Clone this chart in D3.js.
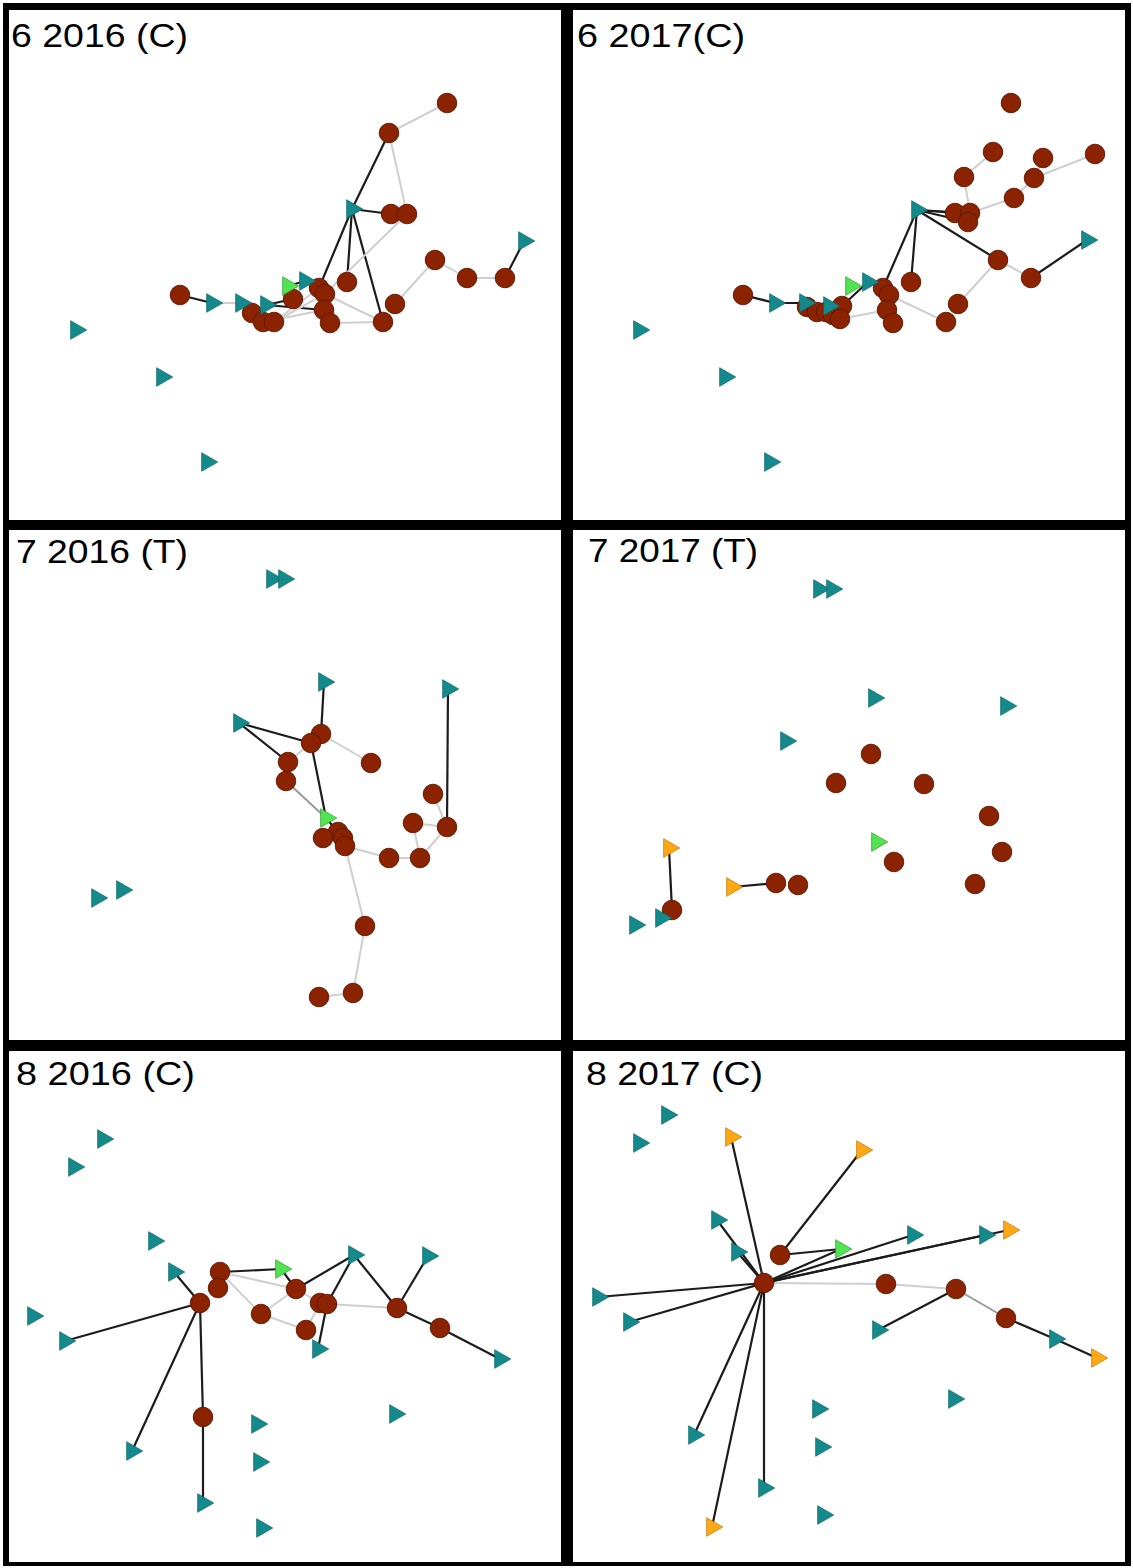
<!DOCTYPE html>
<html>
<head>
<meta charset="utf-8">
<script src="https://cdn.jsdelivr.net/npm/d3@7"></script>
<style>
  html, body { margin: 0; padding: 0; background: #fff; }
  svg { display: block; }
</style>
</head>
<body>
<svg id="chart" width="1133" height="1568"></svg>
<script>
// ---------------- DATA (panel-local coordinates) ----------------
const panelTitles = ["6 2016 (C)", "6 2017(C)", "7 2016 (T)", "7 2017 (T)", "8 2016 (C)", "8 2017 (C)"];

// node: [id, type, x, y]   type: c = circle, t = teal triangle, g = green triangle, o = orange triangle
const p1Nodes = [
  ["a1","c",447,103],["a2","c",389,133],["a3","c",391,214],["a4","c",407,214],["a5","c",435,260],
  ["a6","c",467,278],["a7","c",505,278],["a8","c",347,282],["a9","c",395,304],["a10","c",383,322],
  ["a11","c",180,295],["a12","c",293,299],["a13","c",319,288],["a14","c",325,294],["a15","c",324,310],
  ["a16","c",330,323],["a17","c",252,313],["a18","c",263,322],["a19","c",274,322],
  ["b1","t",352,209],["b2","t",524,241],["b3","t",212,303],["b4","t",241,303],["b5","t",266,305],
  ["b6","t",305,281],["b7","t",76,330],["b8","t",162,377],["b9","t",207,462],["g1","g",288,286]
];
// edge: [source, target, kind]  k = black, l = light grey, m = mid grey
const p1Edges = [
  ["a2","b1","k"],["b1","a3","k"],["b1","a8","k"],["b1","a13","k"],["b1","a10","k"],["a11","b3","k"],
  ["b2","a7","k"],["g1","b6","k"],["b6","a13","k"],["b5","a12","k"],["b5","a15","k"],
  ["a1","a2","l"],["a2","a4","l"],["a3","a4","l"],["a4","a14","l"],["a5","a9","l"],["a5","a6","l"],
  ["a6","a7","l"],["b3","b4","l"],["a14","a10","l"],["a16","a10","l"],["a19","a13","l"],["a19","a14","l"],
  ["a18","a15","l"],["a15","a16","l"],["b4","a17","l"]
];

const p2Nodes = [
  ["c1","c",445,103],["c2","c",427,152],["c3","c",477,158],["c4","c",529,154],["c5","c",398,177],
  ["c6","c",468,178],["c7","c",448,198],["c8","c",389,213],["c9","c",404,213],["c10","c",402,222],
  ["c11","c",432,260],["c12","c",465,278],["c13","c",345,282],["c14","c",392,304],["c15","c",380,322],
  ["c16","c",177,295],["c17","c",317,288],["c18","c",323,295],["c19","c",321,310],["c20","c",327,323],
  ["c21","c",241,307],["c22","c",251,312],["c23","c",260,312],["c24","c",267,315],["c25","c",276,306],
  ["c26","c",274,319],
  ["d1","t",351,210],["d2","t",521,240],["d3","t",209,303],["d4","t",239,303],["d5","t",263,306],
  ["d6","t",302,282],["d7","t",73,330],["d8","t",159,377],["d9","t",204,462],["g2","g",285,286]
];
const p2Edges = [
  ["c16","d3","k"],["d3","d4","k"],["d4","c21","k"],["c25","d6","k"],["d1","c17","k"],["d1","c13","k"],
  ["d1","c8","k"],["d1","c9","k"],["d1","c10","k"],["d1","c11","k"],["c12","d2","k"],
  ["c2","c5","l"],["c5","c9","l"],["c9","c7","l"],["c7","c6","l"],["c6","c4","l"],["c3","c6","l"],
  ["c11","c12","l"],["c11","c14","l"],["c18","c15","l"],["c26","c19","l"]
];

const p3Nodes = [
  ["e1","t",272,59],["e2","t",284,59],["e3","t",324,162],["e4","t",448,169],["e5","t",239,203],
  ["e6","t",97,378],["e7","t",122,370],["g3","g",326,298],
  ["f1","c",321,214],["f2","c",311,223],["f3","c",288,242],["f4","c",286,261],["f5","c",371,243],
  ["f6","c",433,274],["f7","c",413,303],["f8","c",447,307],["f9","c",338,312],["f10","c",323,318],
  ["f11","c",343,318],["f12","c",345,326],["f13","c",389,338],["f14","c",420,338],["f15","c",365,406],
  ["f16","c",353,473],["f17","c",319,477]
];
const p3Edges = [
  ["e5","f2","k"],["e5","f3","k"],["e3","f1","k"],["f2","g3","k"],["e4","f8","k"],["g3","f9","k"],
  ["f3","f2","l"],["f1","f5","l"],["f4","g3","m"],["f12","f13","l"],["f13","f14","l"],["f14","f7","l"],
  ["f7","f8","l"],["f8","f6","l"],["f14","f8","l"],["f12","f15","l"],["f15","f16","l"],["f16","f17","l"]
];

const p4Nodes = [
  ["h1","t",253,69],["h2","t",266,69],["h3","t",308,178],["h4","t",440,186],["h5","t",220,221],
  ["h6","t",69,405],["h7","t",95,398],["g4","g",311,322],["o1","o",103,328],["o2","o",166,367],
  ["i1","c",305,234],["i2","c",270,263],["i3","c",358,264],["i4","c",423,296],["i5","c",436,332],
  ["i6","c",328,342],["i7","c",210,363],["i8","c",232,365],["i9","c",409,364],["i10","c",106,390]
];
const p4Edges = [["o1","i10","k"],["o2","i7","k"]];

const p5Nodes = [
  ["j1","t",103,99],["j2","t",74,127],["j3","t",154,201],["j4","t",174,232],["j5","t",33,276],
  ["j6","t",65,301],["j7","t",354,215],["j8","t",428,216],["j9","t",318,309],["j10","t",500,319],
  ["j11","t",132,411],["j12","t",257,384],["j13","t",259,422],["j14","t",395,374],["j15","t",203,463],
  ["j16","t",262,488],["g5","g",281,229],
  ["k1","c",220,232],["k2","c",218,248],["k3","c",200,263],["k4","c",296,249],["k5","c",261,274],
  ["k6","c",320,263],["k7","c",327,264],["k8","c",306,290],["k9","c",397,268],["k10","c",440,288],
  ["k11","c",203,377]
];
const p5Edges = [
  ["k1","g5","k"],["g5","k4","k"],["k4","j7","k"],["j7","k7","k"],["k7","j9","k"],["j7","k9","k"],
  ["k9","j8","k"],["k9","k10","k"],["k10","j10","k"],["k3","j4","k"],["k3","j6","k"],["k3","j11","k"],
  ["k3","k11","k"],["k11","j15","k"],
  ["k1","k4","l"],["k1","k5","l"],["k5","k4","l"],["k5","k8","l"],["k8","k6","l"],["k4","k6","l"],["k7","k9","l"]
];

const p6Nodes = [
  ["m0","c",198,243],["m1","c",214,215],["m2","c",320,244],["m3","c",390,249],["m4","c",440,278],
  ["n1","t",101,75],["n2","t",73,103],["n3","t",151,180],["n4","t",171,212],["n5","t",347,195],
  ["n6","t",419,195],["n7","t",32,257],["n8","t",63,282],["n9","t",312,290],["n10","t",489,299],
  ["n11","t",128,395],["n12","t",252,369],["n13","t",255,407],["n14","t",198,448],["n15","t",257,475],
  ["n16","t",388,359],
  ["q1","o",165,97],["q2","o",296,110],["q3","o",443,190],["q4","o",531,318],["q5","o",146,487],
  ["g6","g",275,209]
];
const p6Edges = [
  ["m0","q1","k"],["m0","n3","k"],["m0","n4","k"],["m0","n5","k"],["m0","n6","k"],["m0","q3","k"],
  ["m0","n7","k"],["m0","n8","k"],["m0","n11","k"],["m0","q5","k"],["m0","n14","k"],["m0","g6","k"],
  ["m1","q2","k"],["m1","g6","k"],["m3","n9","k"],["m4","n10","k"],["n10","q4","k"],
  ["m0","m2","l"],["m2","m3","l"],["m3","m4","m"]
];

// ---------------- LAYOUT ----------------
const panelOrigins = [[0,0],[566,0],[0,520],[566,520],[0,1040],[566,1040]];
const interiors = [[9,10,561,520],[573,10,1125,520],[9,530,561,1040],[573,530,1125,1040],[9,1051,561,1562],[573,1051,1125,1562]];
const titlePos = [[11,47,177],[11,47,168],[16,43,172],[22,42,170],[16,45,179],[20,45,177]];

const nodeSets = [p1Nodes, p2Nodes, p3Nodes, p4Nodes, p5Nodes, p6Nodes];
const edgeSets = [p1Edges, p2Edges, p3Edges, p4Edges, p5Edges, p6Edges];

const fills = { c: "#8B2200", t: "#148A8C", g: "#52E352", o: "#FFA815" };
const strokes = { c: "#5E1600", t: "#0E6466", g: "#2E9A2E", o: "#B97700" };
const edgeColor = { k: "#1c1c1c", l: "#cfcfcf", m: "#9a9a9a" };
const edgeWidth = { k: 2.2, l: 2, m: 2 };

const svg = d3.select("#chart");
svg.append("rect").attr("x", 3).attr("y", 3).attr("width", 1128).attr("height", 1563).attr("fill", "#000");

interiors.forEach(r => {
  svg.append("rect").attr("x", r[0]).attr("y", r[1]).attr("width", r[2] - r[0]).attr("height", r[3] - r[1]).attr("fill", "#fff");
});

const tri = d3.symbol().type(d3.symbolTriangle).size(150);

nodeSets.forEach((nodes, i) => {
  const [ox, oy] = panelOrigins[i];
  const x = d3.scaleLinear().domain([0, 566]).range([ox, ox + 566]);
  const y = d3.scaleLinear().domain([0, 520]).range([oy, oy + 520]);
  const byId = new Map(nodes.map(n => [n[0], n]));
  const g = svg.append("g");

  g.selectAll("line").data(edgeSets[i]).join("line")
    .attr("x1", d => x(byId.get(d[0])[2])).attr("y1", d => y(byId.get(d[0])[3]))
    .attr("x2", d => x(byId.get(d[1])[2])).attr("y2", d => y(byId.get(d[1])[3]))
    .attr("stroke", d => edgeColor[d[2]]).attr("stroke-width", d => edgeWidth[d[2]])
    .attr("stroke-linecap", "round");

  g.selectAll("circle").data(nodes.filter(n => n[1] === "c")).join("circle")
    .attr("cx", d => x(d[2])).attr("cy", d => y(d[3])).attr("r", 9.8)
    .attr("fill", fills.c).attr("stroke", strokes.c).attr("stroke-width", 0.9);

  g.selectAll("path").data(nodes.filter(n => n[1] !== "c")).join("path")
    .attr("d", tri)
    .attr("transform", d => `translate(${x(d[2])},${y(d[3]) })rotate(90)`)
    .attr("fill", d => fills[d[1]]).attr("stroke", d => strokes[d[1]]).attr("stroke-width", 0.7);

  const tp = titlePos[i];
  svg.append("text").attr("x", x(tp[0])).attr("y", y(tp[1]))
    .attr("font-family", "'Liberation Sans', Arial, sans-serif").attr("font-size", 33)
    .attr("textLength", tp[2]).attr("lengthAdjust", "spacingAndGlyphs")
    .attr("fill", "#000").text(panelTitles[i]);
});
</script>
</body>
</html>
